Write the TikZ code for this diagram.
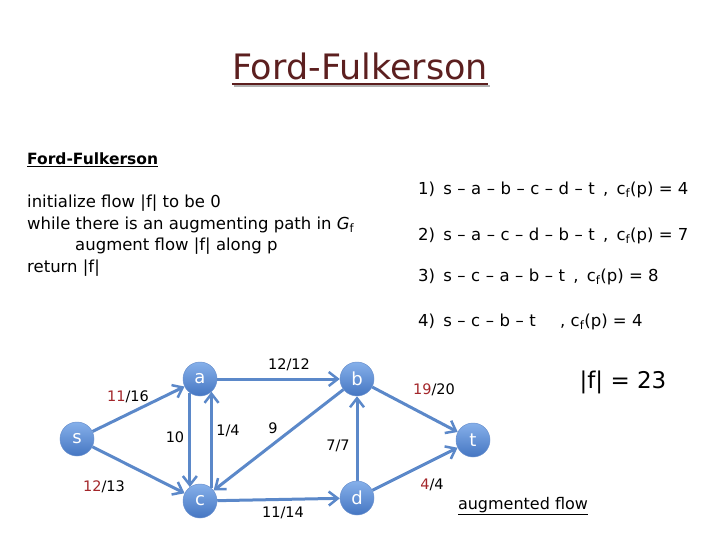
\documentclass[tikz,border=0pt]{standalone}
\usepackage{fontspec}
\setmainfont{DejaVu Sans}
\usetikzlibrary{arrows.meta}
\definecolor{edgeblue}{HTML}{5B88C9}
\definecolor{nodetop}{HTML}{86B0EA}
\definecolor{nodebot}{HTML}{4576C2}
\definecolor{flowred}{HTML}{A3262A}
\definecolor{maroon}{HTML}{5C1F1F}
\tikzset{
  vert/.style={circle, minimum size=34pt, inner sep=0pt, top color=nodetop, bottom color=nodebot, draw=nodebot!80, line width=0.5pt, text=white, font=\fontsize{18}{18}\selectfont},
  edge/.style={draw=edgeblue, line width=3pt, -{Straight Barb[length=9pt,width=14pt,line width=2.5pt]}},
  elabel/.style={font=\fontsize{14.5}{14.5}\selectfont, text=black},
  txt/.style={font=\fontsize{16.5}{16.5}\selectfont, anchor=west, inner sep=0pt},
}
\newcommand{\rf}[1]{\textcolor{flowred}{#1}}
\newcommand{\sub}[1]{\textsubscript{#1}}
\begin{document}
\begin{tikzpicture}[x=1pt,y=-1pt]
\useasboundingbox (0,0) rectangle (720,540);
% title
\node[text=maroon, font=\fontsize{35}{35}\selectfont, inner sep=0pt] (title) at (360,66) {Ford-Fulkerson};
\draw[black!30, line width=2pt] ([xshift=2pt,yshift=-6pt]title.south west) -- ([xshift=2pt,yshift=-6pt]title.south east);
\draw[maroon, line width=2pt] ([yshift=-4pt]title.south west) -- ([yshift=-4pt]title.south east);
% pseudocode
\node[txt, font=\fontsize{15.5}{15.5}\selectfont\bfseries] (hdr) at (27,160) {\underline{Ford-Fulkerson}};
\node[txt] (l1) at (27,203) {initialize flow |f| to be 0};
\node[txt] (l2) at (27,225) {while there is an augmenting path in \textit{G}\sub{f}};
\node[txt] (l3) at (75,246) {augment flow |f| along p};
\node[txt] (l4) at (27,268) {return |f|};
% paths
\node[txt] (p1) at (418,190) {1)\enspace s\,\,–\,\,a\,\,–\,\,b\,\,–\,\,c\,\,–\,\,d\,\,–\,\,t\enspace,\enspace c\sub{f}(p) = 4};
\node[txt] (p2) at (418,236) {2)\enspace s\,\,–\,\,a\,\,–\,\,c\,\,–\,\,d\,\,–\,\,b\,\,–\,\,t\enspace,\enspace c\sub{f}(p) = 7};
\node[txt] (p3) at (418,277) {3)\enspace s\,\,–\,\,c\,\,–\,\,a\,\,–\,\,b\,\,–\,\,t\enspace,\enspace c\sub{f}(p) = 8};
\node[txt] (p4) at (418,322) {4)\enspace s\,\,–\,\,c\,\,–\,\,b\,\,–\,\,t\quad\, , c\sub{f}(p) = 4};
% graph
\node[vert] (s) at (77,439) {s};
\node[vert] (a) at (200,379) {a};
\node[vert] (b) at (357,379) {b};
\node[vert] (c) at (200,501) {c};
\node[vert] (d) at (357,498) {d};
\node[vert] (t) at (473,440) {t};
\draw[edge] (s) -- (a);
\draw[edge] (s) -- (c);
\draw[edge] (a) -- (b);
\draw[edge] (a.-126) -- (c.126);
\draw[edge] (c.48) -- (a.-48);
\draw[edge] (b) -- (c);
\draw[edge] (c) -- (d);
\draw[edge] (d) -- (b);
\draw[edge] (b) -- (t);
\draw[edge] (d) -- (t);
\node[elabel] (lsa) at (128,397) {\rf{11}/16};
\node[elabel] (lsc) at (104,487) {\rf{12}/13};
\node[elabel] (lab) at (289,365) {12/12};
\node[elabel] (lac) at (175,437) {10};
\node[elabel] (lca) at (228,431) {1/4};
\node[elabel] (lbc) at (273,428) {9};
\node[elabel] (ldb) at (338,446) {7/7};
\node[elabel] (lcd) at (283,513) {11/14};
\node[elabel] (lbt) at (434,390) {\rf{19}/20};
\node[elabel] (ldt) at (432,485) {\rf{4}/4};
\node[font=\fontsize{23}{23}\selectfont] (val) at (623,382) {|f| = 23};
\node[font=\fontsize{16}{16}\selectfont] (aug) at (523,506) {\underline{augmented flow}};
\end{tikzpicture}
\end{document}
